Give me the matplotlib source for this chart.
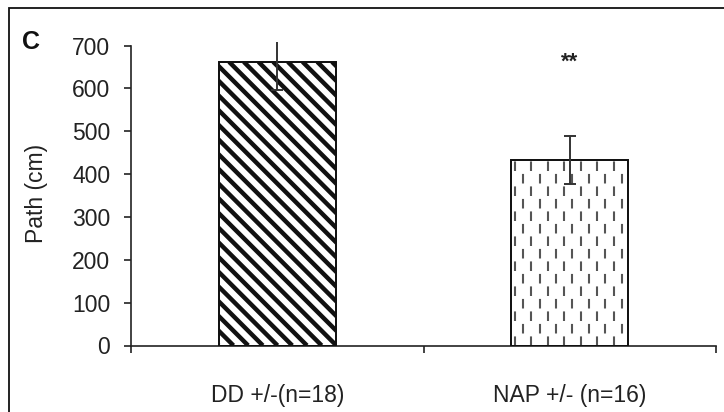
import numpy as np
import matplotlib
matplotlib.use("Agg")
import matplotlib.pyplot as plt
from matplotlib.patches import Rectangle
from matplotlib.collections import LineCollection
from matplotlib.transforms import IdentityTransform

plt.rcParams["font.family"] = ["Liberation Sans", "DejaVu Sans"]

groups = ["DD +/-(n=18)", "NAP +/- (n=16)"]
path_cm = [662, 432]
sem = [66, 56]
signif = ["", "**"]

ink = "#222222"
x = np.arange(len(groups))

fig = plt.figure(figsize=(7.24, 4.12), dpi=100)
ax = fig.add_axes([131 / 724, 66.5 / 412, 585 / 724, 303.8 / 412])
ax.set_xlim(-0.5, 1.5)
ax.set_ylim(0, 709)

bars = ax.bar(x, path_cm, width=0.4, color="white", edgecolor="#111111",
              linewidth=1.3, zorder=2)

# diagonal stripes for the first bar, drawn in pixels and clipped to the bar
b1 = bars[0]
(px0, py0), (px1, py1) = ax.transData.transform(
    [(b1.get_x(), 0), (b1.get_x() + b1.get_width(), b1.get_height())])
step = 14.7
h = py1 - py0
segs = []
for s in np.arange(px0 - h - step, px1 + step, step):
    segs.append([(s, py1), (s + h, py0)])
stripes = LineCollection(segs, colors="#111111", linewidths=3.2,
                         transform=IdentityTransform(), zorder=2.5)
ax.add_collection(stripes)
stripes.set_clip_path(b1)

# dashed vertical fill for the second bar
b2 = bars[1]
bx0 = b2.get_x()
bw = b2.get_width()
cols = np.arange(bx0 + 0.012, bx0 + bw, 0.0282)
for i, cx in enumerate(cols):
    off = 0 if i % 2 == 0 else 6.0
    ln = ax.vlines(cx, 0, path_cm[1], colors="#555555", linewidth=1.5,
                   linestyles=[(off, (4.6, 7.4))], zorder=2.5)
    ln.set_clip_path(b2)

for b in bars:
    ax.add_patch(Rectangle((b.get_x(), 0), b.get_width(), b.get_height(),
                           fill=False, edgecolor="#111111", linewidth=1.3,
                           zorder=3))

ax.errorbar(x, path_cm, yerr=sem, fmt="none", ecolor="#333333",
            elinewidth=1.4, capsize=4, capthick=1.4, zorder=4)

for xi, s in zip(x, signif):
    if s:
        ax.text(xi, 648, s, ha="center", va="baseline", fontsize=16,
                fontweight="bold", color=ink)

ax.set_yticks(np.arange(0, 701, 100))
ax.spines["left"].set_bounds(0, 700)
ax.spines["top"].set_visible(False)
ax.spines["right"].set_visible(False)
for sp in ("left", "bottom"):
    ax.spines[sp].set_color(ink)
    ax.spines[sp].set_linewidth(1.2)

ax.set_xticks([-0.5, 0.5, 1.5])
ax.set_xticklabels([])
ax.set_xticks(x, minor=True)
ax.set_xticklabels(groups, minor=True)
ax.tick_params(axis="x", which="major", direction="out", length=5,
               width=1.2, color=ink)
ax.tick_params(axis="x", which="minor", length=0, pad=28,
               labelsize=16.5, labelcolor=ink)
ax.tick_params(axis="y", direction="out", length=5, width=1.2, color=ink,
               pad=10, labelsize=16.5, labelcolor=ink)

fig.text(37 / 724, 1 - 193 / 412, "Path (cm)", rotation=90, ha="center",
         va="center", fontsize=16.5, color=ink)
fig.text(31 / 724, 1 - 42 / 412, "C", ha="center", va="center",
         fontsize=18, fontweight="bold", color="#111111")

fig.add_artist(Rectangle((9 / 724, -0.1), 1.2, 1.1 - 8 / 412,
                         transform=fig.transFigure, fill=False,
                         edgecolor="#111111", linewidth=1.3))

fig.savefig("out.png", dpi=100)
